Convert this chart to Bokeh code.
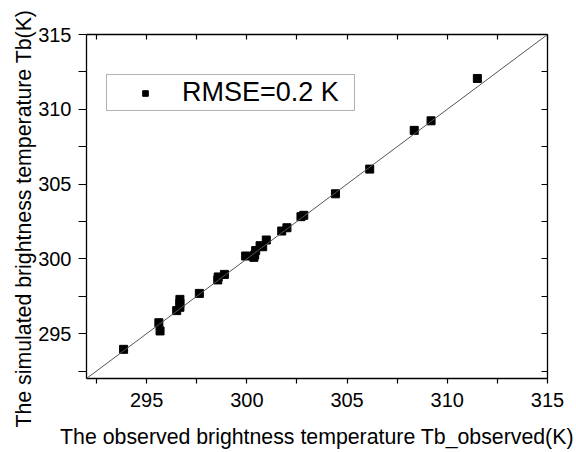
from bokeh.plotting import figure
from bokeh.models import FixedTicker, LinearAxis, Slope, Legend, LegendItem, Range1d, Title
from bokeh.embed import file_html
from bokeh.resources import INLINE

# ---- data ----
tb_observed = [293.85, 295.61, 295.67, 296.50, 296.66, 296.66, 296.66, 297.63,
               298.55, 298.57, 298.88, 299.94, 300.35, 300.39, 300.44, 300.66,
               300.79, 300.97, 301.74, 302.00, 302.70, 302.84, 304.42, 306.13,
               308.35, 309.19, 311.50]
tb_simulated = [293.95, 295.73, 295.18, 296.54, 297.29, 297.03, 296.76, 297.69,
                298.59, 298.79, 298.96, 300.19, 300.10, 300.26, 300.55, 300.88,
                300.81, 301.26, 301.86, 302.08, 302.82, 302.91, 304.35, 306.00,
                308.59, 309.23, 312.06]
major_ticks = [295, 300, 305, 310, 315]
minor_ticks = [292.5, 297.5, 302.5, 307.5, 312.5]
axis_limits = [292, 315]
legend_label = "RMSE=0.2 K"
x_title = "The observed brightness temperature Tb_observed(K)"
y_title = "The simulated brightness temperature Tb(K)"

FONT = "Liberation Sans"

p = figure(width=576, height=452, output_backend="svg", toolbar_location=None,
           x_range=Range1d(*axis_limits), y_range=Range1d(*axis_limits),
           min_border_left=86, min_border_right=29, min_border_top=34,
           min_border_bottom=74, x_axis_label=x_title)
p.grid.visible = False
p.outline_line_color = None
p.background_fill_color = "white"
p.border_fill_color = "white"

def style_axis(ax, tick_out, tick_in, labels=True):
    ax.ticker = FixedTicker(ticks=major_ticks, minor_ticks=minor_ticks)
    ax.major_tick_out = tick_out
    ax.major_tick_in = tick_in
    ax.minor_tick_out = tick_out
    ax.minor_tick_in = tick_in
    ax.axis_line_color = "black"
    ax.axis_line_width = 1.3
    ax.major_tick_line_color = "black"
    ax.minor_tick_line_color = "black"
    ax.major_tick_line_width = 1.2
    ax.minor_tick_line_width = 1.2
    ax.major_label_text_font = FONT
    ax.axis_label_text_font = FONT
    ax.axis_label_text_font_style = "normal"
    ax.axis_label_text_color = "black"
    if labels:
        ax.major_label_text_font_size = "20px"
        ax.major_label_text_color = "black"
    else:
        ax.major_label_text_font_size = "1px"
        ax.major_label_text_color = None
        ax.major_label_standoff = 0

xa = p.xaxis[0]
style_axis(xa, 5, 0)
xa.major_label_standoff = 9
xa.axis_label_text_font_size = "21.3px"
xa.axis_label_standoff = 15

ya = p.yaxis[0]
style_axis(ya, 8, 0)
ya.major_label_standoff = 7

top = LinearAxis()
style_axis(top, 0, 5, labels=False)
p.add_layout(top, "above")
right = LinearAxis()
style_axis(right, 0, 6, labels=False)
p.add_layout(right, "right")

# y-axis title as a side title, shifted down like the reference
p.add_layout(Title(text=y_title, align="left", offset=-49, standoff=0,
                   text_font=FONT, text_font_size="21.3px",
                   text_font_style="normal", text_color="black"), "left")

p.add_layout(Slope(gradient=1, y_intercept=0, line_color="#555555", line_width=1))

pts = p.scatter(tb_observed, tb_simulated, marker="square", size=8,
                fill_color="black", line_color="black")

legend = Legend(items=[LegendItem(label=legend_label, renderers=[pts])],
                location=(20, 267), glyph_width=72, glyph_height=14,
                label_standoff=1, label_width=170, padding=2, spacing=0, margin=0,
                label_text_font=FONT, label_text_font_size="27px",
                label_text_color="black", border_line_color="#666666",
                border_line_width=1, background_fill_alpha=1)
p.add_layout(legend)

open("out.html", "w").write(file_html(p, INLINE))
